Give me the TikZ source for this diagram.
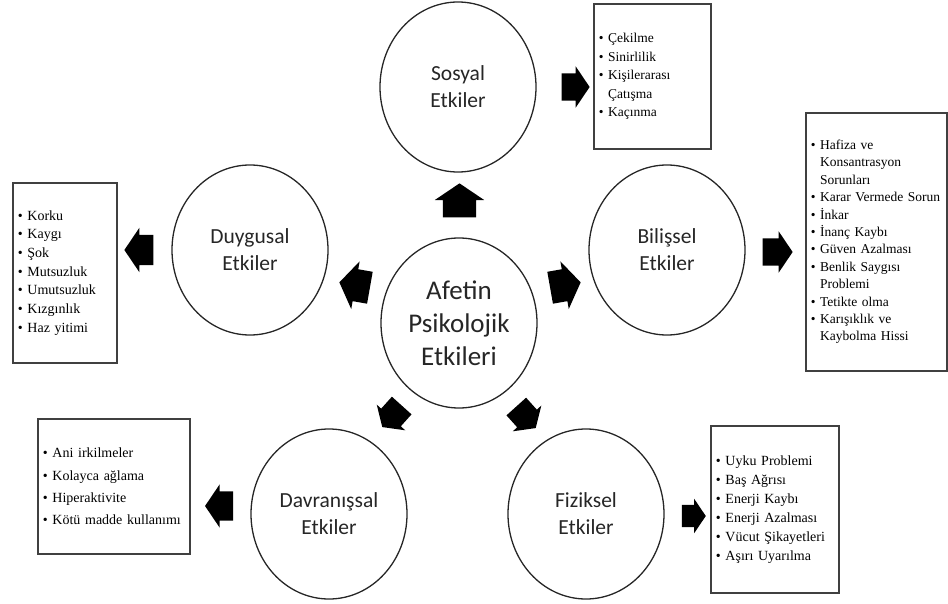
\documentclass[tikz,border=0pt]{standalone}
\usepackage{fontspec}
\setmainfont{Liberation Serif}
\newfontfamily\calfont{Carlito}
\usetikzlibrary{shapes.geometric,shapes.arrows}
\newcommand{\bul}{•\ }
\newcommand{\cnt}{\hphantom{•\ }}
\newcommand{\shaft}[1]{\rule{0pt}{#1}}
\begin{document}
\begin{tikzpicture}[x=1pt,y=-1pt,
  circ/.style={ellipse, draw=black!85, line width=1.3pt, minimum width=156pt, minimum height=170pt, inner sep=0pt, align=center, font=\calfont\fontsize{21.5}{27}\selectfont, text=black!85},
  listbox/.style={draw=black!75, line width=1.8pt, anchor=north west, inner xsep=5pt, align=left},
  blk/.style={single arrow, fill=black, draw=none, inner sep=0pt, minimum width=0pt, single arrow tip angle=112},
]
\useasboundingbox (0,0) rectangle (948,604);
% circles
\node[circ, font=\calfont\fontsize{27}{33}\selectfont] (c) at (459,323) {Afetin\\Psikolojik\\Etkileri};
\node[circ] (sos) at (458,87) {Sosyal\\Etkiler};
\node[circ] (duy) at (250,250) {Duygusal\\Etkiler};
\node[circ] (bil) at (667,250) {Bilişsel\\Etkiler};
\node[circ] (dav) at (329,514) {Davranışsal\\Etkiler};
\node[circ] (fiz) at (586,514) {Fiziksel\\Etkiler};
% boxes
\node[listbox, minimum width=117pt, minimum height=145pt, text width=107pt, font=\fontsize{13.5}{18.5}\selectfont] (sosb) at (593,3)
 {\bul Çekilme\\\bul Sinirlilik\\\bul Kişilerarası\\\cnt Çatışma\\\bul Kaçınma};
\node[listbox, minimum width=141pt, minimum height=258pt, text width=131pt, font=\fontsize{13.5}{17.4}\selectfont] (bilb) at (805,112)
 {\bul Hafiza ve\\\cnt Konsantrasyon\\\cnt Sorunları\\\bul Karar Vermede Sorun\\\bul İnkar\\\bul İnanç Kaybı\\\bul Güven Azalması\\\bul Benlik Saygısı\\\cnt Problemi\\\bul Tetikte olma\\\bul Karışıklık ve\\\cnt Kaybolma Hissi};
\node[listbox, minimum width=104pt, minimum height=180pt, text width=94pt, font=\fontsize{14}{18.7}\selectfont] (duyb) at (12,182)
 {\bul Korku\\\bul Kaygı\\\bul Şok\\\bul Mutsuzluk\\\bul Umutsuzluk\\\bul Kızgınlık\\\bul Haz yitimi};
\node[listbox, minimum width=152pt, minimum height=135pt, text width=142pt, font=\fontsize{14}{22.3}\selectfont] (davb) at (37,418)
 {\bul Ani irkilmeler\\\bul Kolayca ağlama\\\bul Hiperaktivite\\\bul Kötü madde kullanımı};
\node[listbox, minimum width=128pt, minimum height=167pt, text width=118pt, font=\fontsize{14}{19}\selectfont] (fizb) at (710,425)
 {\bul Uyku Problemi\\\bul Baş Ağrısı\\\bul Enerji Kaybı\\\bul Enerji Azalması\\\bul Vücut Şikayetleri\\\bul Aşırı Uyarılma};
% block arrows from centre
\node[blk, minimum height=34pt, single arrow head extend=8pt, rotate=90] (a1) at (459.5,206) {\shaft{33pt}};
\node[blk, minimum height=31pt, single arrow head extend=8pt, rotate=170] (a2) at (360,286) {\shaft{32pt}};
\node[blk, minimum height=31pt, single arrow head extend=8pt, rotate=10] (a3) at (560,286) {\shaft{32pt}};
\node[blk, minimum height=29pt, single arrow head extend=6pt, rotate=228] (a4) at (395,413) {\shaft{26pt}};
\node[blk, minimum height=29pt, single arrow head extend=6pt, rotate=-48] (a5) at (523,414) {\shaft{26pt}};
% block arrows to boxes
\node[blk, minimum height=28pt, single arrow head extend=7pt] (b1) at (571,87) {\shaft{27pt}};
\node[blk, minimum height=30pt, single arrow head extend=7pt] (b2) at (773,252) {\shaft{27pt}};
\node[blk, minimum height=24pt, single arrow head extend=6pt] (b3) at (690,516) {\shaft{22pt}};
\node[blk, minimum height=29pt, single arrow head extend=7pt, rotate=180] (b4) at (144,250) {\shaft{30pt}};
\node[blk, minimum height=28pt, single arrow head extend=7pt, rotate=180] (b5) at (224,506) {\shaft{29pt}};
\end{tikzpicture}
\end{document}
